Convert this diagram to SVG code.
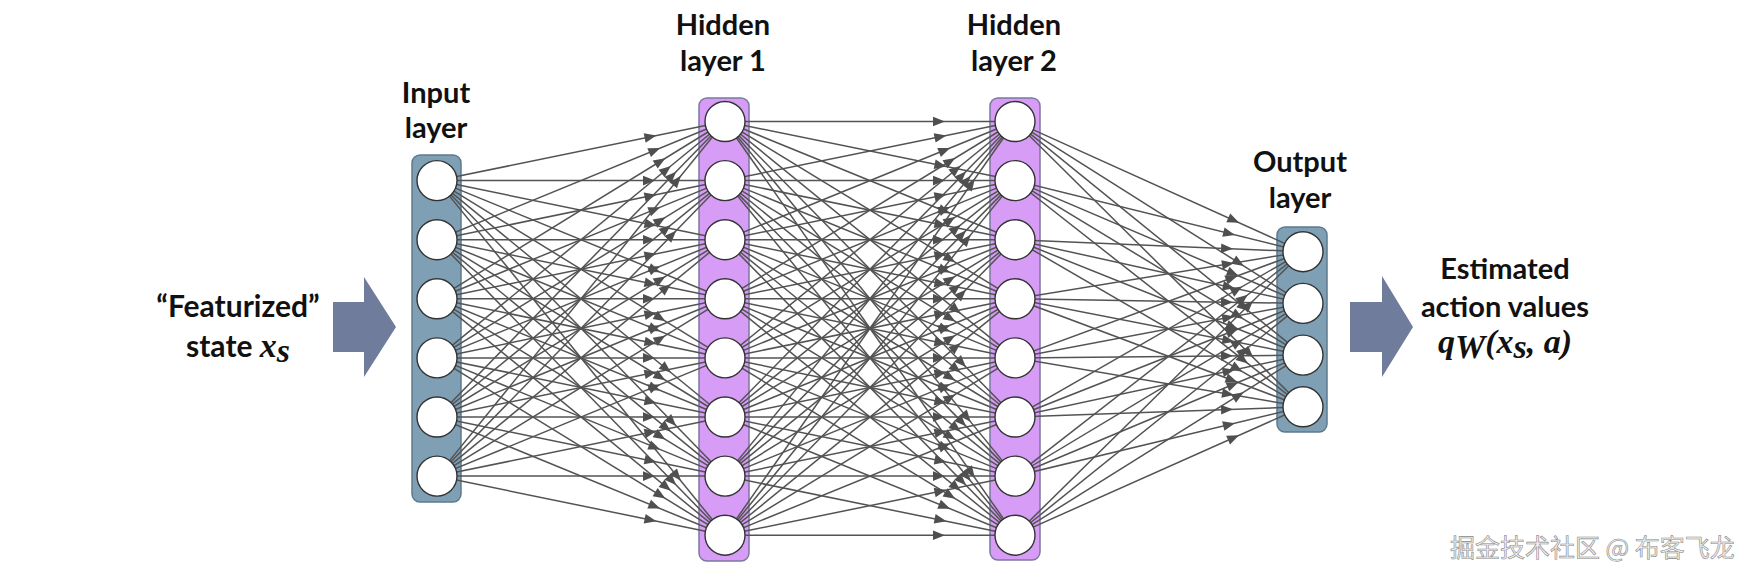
<svg xmlns="http://www.w3.org/2000/svg" width="1753" height="578" viewBox="0 0 1753 578">
<style>
.lbl{font-family:Lato,"Open Sans","Liberation Sans",sans-serif;font-weight:700;font-size:29px;fill:#111;text-anchor:middle}
.m{font-family:"Liberation Serif",serif;font-style:italic;font-weight:700;font-size:34px}
.conn line{stroke:#535353;stroke-width:1.5;marker-end:url(#ah)}
.node circle{fill:#fff;stroke:#333;stroke-width:1.4}
.ibox{fill:#7f9fb4;stroke:#5f7a8d;stroke-width:1.5}
.hbox{fill:#d69cf6;stroke:#7b78a2;stroke-width:1.5}
.big{fill:#6f7c9c}
.wm{font-family:"Noto Sans CJK SC",sans-serif;font-size:25px;fill:#f0f0f0;stroke:#8a8a8a;stroke-width:0.6}
</style>
<defs>
<marker id="ah" markerUnits="userSpaceOnUse" markerWidth="20" markerHeight="20" refX="70" refY="0" orient="auto" overflow="visible">
<path d="M0,0 L-12,-4.8 L-12,4.8 Z" fill="#4f4f4f"/>
</marker>
</defs>
<rect width="1753" height="578" fill="#fff"/>

<g id="labels">
<text class="lbl" x="436" y="103">Input</text>
<text class="lbl" x="436" y="138">layer</text>
<text class="lbl" x="723" y="35">Hidden</text>
<text class="lbl" x="723" y="71">layer 1</text>
<text class="lbl" x="1014" y="35">Hidden</text>
<text class="lbl" x="1014" y="71">layer 2</text>
<text class="lbl" x="1300" y="172">Output</text>
<text class="lbl" x="1300" y="208">layer</text>
</g>

<g id="input-arrow">
<polygon class="big" points="333,302 364,302 364,277 396,327 364,377 364,352 333,352"/>
<text class="lbl" x="238" y="317" style="font-size:30px">“Featurized”</text>
<text class="lbl" x="238" y="357" style="font-size:30px">state <tspan class="m">x</tspan><tspan class="m" font-size="22" dy="5">s</tspan></text>
</g>

<g id="output-arrow">
<polygon class="big" points="1350,302 1382,302 1382,276 1413,327 1382,377 1382,352 1350,352"/>
<text class="lbl" x="1505" y="279">Estimated</text>
<text class="lbl" x="1505" y="317">action values</text>
<text class="lbl" x="1505" y="353"><tspan class="m">q</tspan><tspan class="m" font-size="22" dy="5">W</tspan><tspan class="m" font-style="normal" dy="-5">(</tspan><tspan class="m">x</tspan><tspan class="m" font-size="22" dy="5">s</tspan><tspan class="m" font-style="normal" dy="-5">, </tspan><tspan class="m">a</tspan><tspan class="m" font-style="normal">)</tspan></text>
</g>

<g id="boxes">
<rect class="ibox" x="412" y="155" width="49" height="347" rx="8"/>
<rect class="hbox" x="699" y="98" width="50" height="463" rx="8"/>
<rect class="hbox" x="990" y="98" width="50" height="462" rx="8"/>
<rect class="ibox" x="1277" y="227" width="50" height="205" rx="8"/>
</g>

<g id="connectors" class="conn">
<line x1="437" y1="180.6" x2="725" y2="121.5"/><line x1="437" y1="180.6" x2="725" y2="180.6"/><line x1="437" y1="180.6" x2="725" y2="239.7"/><line x1="437" y1="180.6" x2="725" y2="298.8"/><line x1="437" y1="180.6" x2="725" y2="357.9"/><line x1="437" y1="180.6" x2="725" y2="417"/><line x1="437" y1="180.6" x2="725" y2="476.1"/><line x1="437" y1="180.6" x2="725" y2="535.2"/>
<line x1="437" y1="239.7" x2="725" y2="121.5"/><line x1="437" y1="239.7" x2="725" y2="180.6"/><line x1="437" y1="239.7" x2="725" y2="239.7"/><line x1="437" y1="239.7" x2="725" y2="298.8"/><line x1="437" y1="239.7" x2="725" y2="357.9"/><line x1="437" y1="239.7" x2="725" y2="417"/><line x1="437" y1="239.7" x2="725" y2="476.1"/><line x1="437" y1="239.7" x2="725" y2="535.2"/>
<line x1="437" y1="298.8" x2="725" y2="121.5"/><line x1="437" y1="298.8" x2="725" y2="180.6"/><line x1="437" y1="298.8" x2="725" y2="239.7"/><line x1="437" y1="298.8" x2="725" y2="298.8"/><line x1="437" y1="298.8" x2="725" y2="357.9"/><line x1="437" y1="298.8" x2="725" y2="417"/><line x1="437" y1="298.8" x2="725" y2="476.1"/><line x1="437" y1="298.8" x2="725" y2="535.2"/>
<line x1="437" y1="357.9" x2="725" y2="121.5"/><line x1="437" y1="357.9" x2="725" y2="180.6"/><line x1="437" y1="357.9" x2="725" y2="239.7"/><line x1="437" y1="357.9" x2="725" y2="298.8"/><line x1="437" y1="357.9" x2="725" y2="357.9"/><line x1="437" y1="357.9" x2="725" y2="417"/><line x1="437" y1="357.9" x2="725" y2="476.1"/><line x1="437" y1="357.9" x2="725" y2="535.2"/>
<line x1="437" y1="417" x2="725" y2="121.5"/><line x1="437" y1="417" x2="725" y2="180.6"/><line x1="437" y1="417" x2="725" y2="239.7"/><line x1="437" y1="417" x2="725" y2="298.8"/><line x1="437" y1="417" x2="725" y2="357.9"/><line x1="437" y1="417" x2="725" y2="417"/><line x1="437" y1="417" x2="725" y2="476.1"/><line x1="437" y1="417" x2="725" y2="535.2"/>
<line x1="437" y1="476.1" x2="725" y2="121.5"/><line x1="437" y1="476.1" x2="725" y2="180.6"/><line x1="437" y1="476.1" x2="725" y2="239.7"/><line x1="437" y1="476.1" x2="725" y2="298.8"/><line x1="437" y1="476.1" x2="725" y2="357.9"/><line x1="437" y1="476.1" x2="725" y2="417"/><line x1="437" y1="476.1" x2="725" y2="476.1"/><line x1="437" y1="476.1" x2="725" y2="535.2"/>

<line x1="725" y1="121.5" x2="1015" y2="121.5"/><line x1="725" y1="121.5" x2="1015" y2="180.6"/><line x1="725" y1="121.5" x2="1015" y2="239.7"/><line x1="725" y1="121.5" x2="1015" y2="298.8"/><line x1="725" y1="121.5" x2="1015" y2="357.9"/><line x1="725" y1="121.5" x2="1015" y2="417"/><line x1="725" y1="121.5" x2="1015" y2="476.1"/><line x1="725" y1="121.5" x2="1015" y2="535.2"/>
<line x1="725" y1="180.6" x2="1015" y2="121.5"/><line x1="725" y1="180.6" x2="1015" y2="180.6"/><line x1="725" y1="180.6" x2="1015" y2="239.7"/><line x1="725" y1="180.6" x2="1015" y2="298.8"/><line x1="725" y1="180.6" x2="1015" y2="357.9"/><line x1="725" y1="180.6" x2="1015" y2="417"/><line x1="725" y1="180.6" x2="1015" y2="476.1"/><line x1="725" y1="180.6" x2="1015" y2="535.2"/>
<line x1="725" y1="239.7" x2="1015" y2="121.5"/><line x1="725" y1="239.7" x2="1015" y2="180.6"/><line x1="725" y1="239.7" x2="1015" y2="239.7"/><line x1="725" y1="239.7" x2="1015" y2="298.8"/><line x1="725" y1="239.7" x2="1015" y2="357.9"/><line x1="725" y1="239.7" x2="1015" y2="417"/><line x1="725" y1="239.7" x2="1015" y2="476.1"/><line x1="725" y1="239.7" x2="1015" y2="535.2"/>
<line x1="725" y1="298.8" x2="1015" y2="121.5"/><line x1="725" y1="298.8" x2="1015" y2="180.6"/><line x1="725" y1="298.8" x2="1015" y2="239.7"/><line x1="725" y1="298.8" x2="1015" y2="298.8"/><line x1="725" y1="298.8" x2="1015" y2="357.9"/><line x1="725" y1="298.8" x2="1015" y2="417"/><line x1="725" y1="298.8" x2="1015" y2="476.1"/><line x1="725" y1="298.8" x2="1015" y2="535.2"/>
<line x1="725" y1="357.9" x2="1015" y2="121.5"/><line x1="725" y1="357.9" x2="1015" y2="180.6"/><line x1="725" y1="357.9" x2="1015" y2="239.7"/><line x1="725" y1="357.9" x2="1015" y2="298.8"/><line x1="725" y1="357.9" x2="1015" y2="357.9"/><line x1="725" y1="357.9" x2="1015" y2="417"/><line x1="725" y1="357.9" x2="1015" y2="476.1"/><line x1="725" y1="357.9" x2="1015" y2="535.2"/>
<line x1="725" y1="417" x2="1015" y2="121.5"/><line x1="725" y1="417" x2="1015" y2="180.6"/><line x1="725" y1="417" x2="1015" y2="239.7"/><line x1="725" y1="417" x2="1015" y2="298.8"/><line x1="725" y1="417" x2="1015" y2="357.9"/><line x1="725" y1="417" x2="1015" y2="417"/><line x1="725" y1="417" x2="1015" y2="476.1"/><line x1="725" y1="417" x2="1015" y2="535.2"/>
<line x1="725" y1="476.1" x2="1015" y2="121.5"/><line x1="725" y1="476.1" x2="1015" y2="180.6"/><line x1="725" y1="476.1" x2="1015" y2="239.7"/><line x1="725" y1="476.1" x2="1015" y2="298.8"/><line x1="725" y1="476.1" x2="1015" y2="357.9"/><line x1="725" y1="476.1" x2="1015" y2="417"/><line x1="725" y1="476.1" x2="1015" y2="476.1"/><line x1="725" y1="476.1" x2="1015" y2="535.2"/>
<line x1="725" y1="535.2" x2="1015" y2="121.5"/><line x1="725" y1="535.2" x2="1015" y2="180.6"/><line x1="725" y1="535.2" x2="1015" y2="239.7"/><line x1="725" y1="535.2" x2="1015" y2="298.8"/><line x1="725" y1="535.2" x2="1015" y2="357.9"/><line x1="725" y1="535.2" x2="1015" y2="417"/><line x1="725" y1="535.2" x2="1015" y2="476.1"/><line x1="725" y1="535.2" x2="1015" y2="535.2"/>

<line x1="1015" y1="121.5" x2="1303" y2="251.7"/><line x1="1015" y1="121.5" x2="1303" y2="303.4"/><line x1="1015" y1="121.5" x2="1303" y2="355.1"/><line x1="1015" y1="121.5" x2="1303" y2="406.8"/>
<line x1="1015" y1="180.6" x2="1303" y2="251.7"/><line x1="1015" y1="180.6" x2="1303" y2="303.4"/><line x1="1015" y1="180.6" x2="1303" y2="355.1"/><line x1="1015" y1="180.6" x2="1303" y2="406.8"/>
<line x1="1015" y1="239.7" x2="1303" y2="251.7"/><line x1="1015" y1="239.7" x2="1303" y2="303.4"/><line x1="1015" y1="239.7" x2="1303" y2="355.1"/><line x1="1015" y1="239.7" x2="1303" y2="406.8"/>
<line x1="1015" y1="298.8" x2="1303" y2="251.7"/><line x1="1015" y1="298.8" x2="1303" y2="303.4"/><line x1="1015" y1="298.8" x2="1303" y2="355.1"/><line x1="1015" y1="298.8" x2="1303" y2="406.8"/>
<line x1="1015" y1="357.9" x2="1303" y2="251.7"/><line x1="1015" y1="357.9" x2="1303" y2="303.4"/><line x1="1015" y1="357.9" x2="1303" y2="355.1"/><line x1="1015" y1="357.9" x2="1303" y2="406.8"/>
<line x1="1015" y1="417" x2="1303" y2="251.7"/><line x1="1015" y1="417" x2="1303" y2="303.4"/><line x1="1015" y1="417" x2="1303" y2="355.1"/><line x1="1015" y1="417" x2="1303" y2="406.8"/>
<line x1="1015" y1="476.1" x2="1303" y2="251.7"/><line x1="1015" y1="476.1" x2="1303" y2="303.4"/><line x1="1015" y1="476.1" x2="1303" y2="355.1"/><line x1="1015" y1="476.1" x2="1303" y2="406.8"/>
<line x1="1015" y1="535.2" x2="1303" y2="251.7"/><line x1="1015" y1="535.2" x2="1303" y2="303.4"/><line x1="1015" y1="535.2" x2="1303" y2="355.1"/><line x1="1015" y1="535.2" x2="1303" y2="406.8"/>
</g>

<g id="input-layer" class="node">
<circle cx="437" cy="180.6" r="20"/><circle cx="437" cy="239.7" r="20"/><circle cx="437" cy="298.8" r="20"/><circle cx="437" cy="357.9" r="20"/><circle cx="437" cy="417" r="20"/><circle cx="437" cy="476.1" r="20"/>
</g>
<g id="hidden-layer-1" class="node">
<circle cx="725" cy="121.5" r="20"/><circle cx="725" cy="180.6" r="20"/><circle cx="725" cy="239.7" r="20"/><circle cx="725" cy="298.8" r="20"/><circle cx="725" cy="357.9" r="20"/><circle cx="725" cy="417" r="20"/><circle cx="725" cy="476.1" r="20"/><circle cx="725" cy="535.2" r="20"/>
</g>
<g id="hidden-layer-2" class="node">
<circle cx="1015" cy="121.5" r="20"/><circle cx="1015" cy="180.6" r="20"/><circle cx="1015" cy="239.7" r="20"/><circle cx="1015" cy="298.8" r="20"/><circle cx="1015" cy="357.9" r="20"/><circle cx="1015" cy="417" r="20"/><circle cx="1015" cy="476.1" r="20"/><circle cx="1015" cy="535.2" r="20"/>
</g>
<g id="output-layer" class="node">
<circle cx="1303" cy="251.7" r="20"/><circle cx="1303" cy="303.4" r="20"/><circle cx="1303" cy="355.1" r="20"/><circle cx="1303" cy="406.8" r="20"/>
</g>

<text class="wm" x="1450" y="557">掘金技术社区 @ 布客飞龙</text>
</svg>
